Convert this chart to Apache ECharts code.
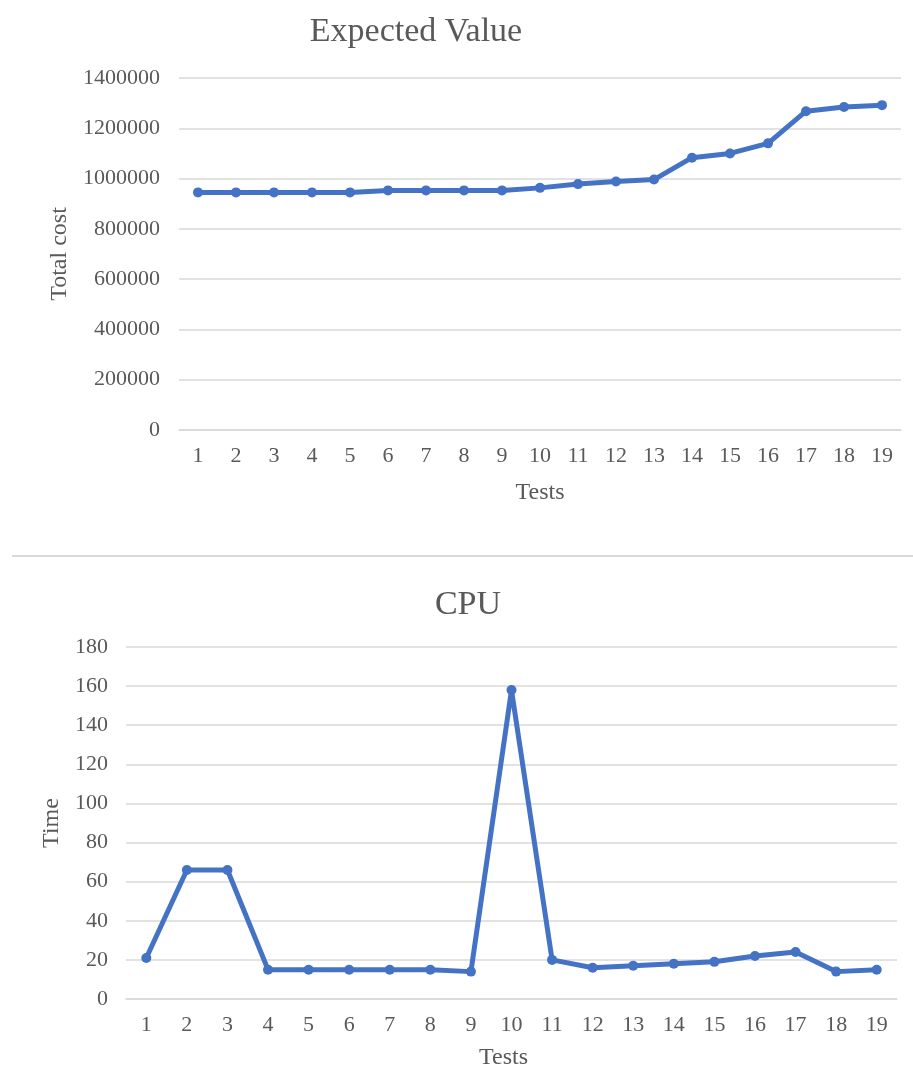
<!DOCTYPE html>
<html>
<head>
<meta charset="utf-8">
<script src="https://cdn.jsdelivr.net/npm/echarts@6/dist/echarts.min.js"></script>
<style>
html,body{margin:0;padding:0;background:#fff;}
#c{width:913px;height:1068px;}
</style>
</head>
<body>
<div id="c"></div>
<script>
const tests = ['1','2','3','4','5','6','7','8','9','10','11','12','13','14','15','16','17','18','19'];
const expectedValue = [945000,945000,945000,945000,945000,953000,953000,953000,953000,963000,978000,988000,996000,1083000,1100000,1140000,1268000,1285000,1292000];
const cpuTime = [21,66,66,15,15,15,15,15,14,158,20,16,17,18,19,22,24,14,15];

const txt = '#595959';
const font = 'Liberation Serif, Times New Roman, serif';
const grid = '#d9d9d9';
const blue = '#4472C4';

const chart = echarts.init(document.getElementById('c'));
function xAx(gi){
  return {
    type:'category', gridIndex:gi, data:tests, boundaryGap:true,
    name:'Tests', nameLocation:'middle', nameGap: gi===0?51:47,
    nameTextStyle:{color:txt,fontFamily:font,fontSize:24,padding: gi===0?[0,0,0,0]:[0,16,0,0]},
    axisLine:{lineStyle:{color:grid,width:1.5}},
    axisTick:{show:false},
    axisLabel:{color:txt,fontFamily:font,fontSize:22,margin:15}
  };
}
const plain = v => String(v);
chart.setOption({
  animation:false,
  title:[
    {text:'Expected Value',left:411,top:10,textAlign:'center',textStyle:{color:txt,fontFamily:font,fontSize:34,fontWeight:'normal'}},
    {text:'CPU',left:463,top:583,textAlign:'center',textStyle:{color:txt,fontFamily:font,fontSize:34,fontWeight:'normal'}}
  ],
  grid:[
    {left:179,right:12,top:78,height:352,outerBoundsMode:'none',containLabel:false},
    {left:126,right:16,top:647,height:352,outerBoundsMode:'none',containLabel:false}
  ],
  xAxis:[xAx(0),xAx(1)],
  yAxis:[
    {type:'value',gridIndex:0,min:0,max:1400000,interval:200000,
     name:'Total cost',nameLocation:'middle',nameGap:101,
     nameTextStyle:{color:txt,fontFamily:font,fontSize:24},
     axisLine:{show:false},axisTick:{show:false},
     axisLabel:{color:txt,fontFamily:font,fontSize:22,margin:19,formatter:plain},
     splitLine:{lineStyle:{color:grid,width:1.5}}},
    {type:'value',gridIndex:1,min:0,max:180,interval:20,
     name:'Time',nameLocation:'middle',nameGap:61,
     nameTextStyle:{color:txt,fontFamily:font,fontSize:24},
     axisLine:{show:false},axisTick:{show:false},
     axisLabel:{color:txt,fontFamily:font,fontSize:22,margin:18,formatter:plain},
     splitLine:{lineStyle:{color:grid,width:1.5}}}
  ],
  series:[
    {type:'line',xAxisIndex:0,yAxisIndex:0,data:expectedValue,symbol:'circle',symbolSize:10,
     lineStyle:{color:blue,width:5},itemStyle:{color:blue}},
    {type:'line',xAxisIndex:1,yAxisIndex:1,data:cpuTime,symbol:'circle',symbolSize:10,
     lineStyle:{color:blue,width:5},itemStyle:{color:blue}}
  ],
  graphic:[
    {type:'line',shape:{x1:12,y1:556,x2:913,y2:556},style:{stroke:grid,lineWidth:2}}
  ]
});
</script>
</body>
</html>
